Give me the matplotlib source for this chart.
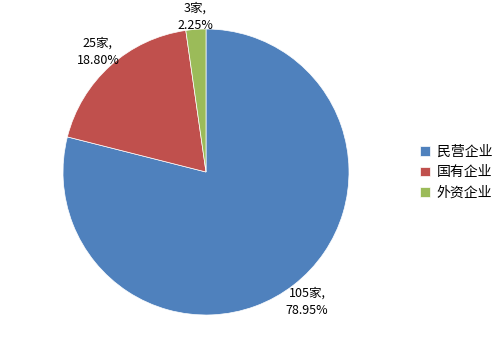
import numpy as np
import matplotlib
matplotlib.use("Agg")
import matplotlib.pyplot as plt

plt.rcParams['font.family'] = ['Noto Sans CJK SC', 'DejaVu Sans']

categories = ["民营企业", "国有企业", "外资企业"]
counts = [105, 25, 3]
percents = [78.95, 18.80, 2.25]
colors = ["#4F81BD", "#C0504D", "#9BBB59"]

fig = plt.figure(figsize=(4.98, 3.48), dpi=100)
ax = fig.add_axes([63 / 498, 33 / 348, 286 / 498, 286 / 348])
wedges, _ = ax.pie(counts, colors=colors, startangle=90, counterclock=False,
                   wedgeprops=dict(linewidth=0.5, edgecolor="white"))
ax.set_aspect("equal")
ax.set_xlim(-1, 1)
ax.set_ylim(-1, 1)

dists = [1.15, 1.13, 1.09]
for w, c, p, d in zip(wedges, counts, percents, dists):
    ang = np.deg2rad((w.theta1 + w.theta2) / 2)
    ax.text(d * np.cos(ang), d * np.sin(ang), f"{c}家,\n{p:.2f}%",
            ha="center", va="center", fontsize=9, linespacing=1.45,
            clip_on=False)

fig.legend(wedges, categories, loc="center left", bbox_to_anchor=(0.818, 0.505),
           frameon=False, fontsize=10, handlelength=0.7, handleheight=0.7,
           handletextpad=0.5, labelspacing=0.45)

fig.savefig("out.png", dpi=100)
